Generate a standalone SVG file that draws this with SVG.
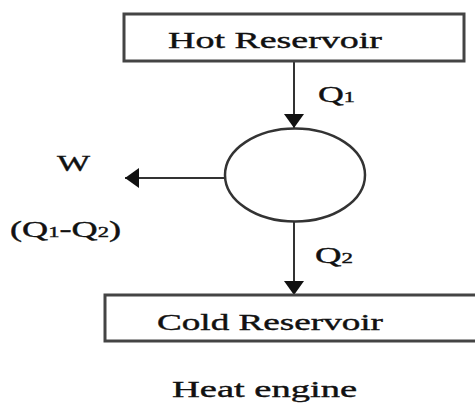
<svg xmlns="http://www.w3.org/2000/svg" width="475" height="403" viewBox="0 0 475 403">
<defs>
<marker id="ah" viewBox="0 0 14 20" refX="14" refY="10" markerWidth="14" markerHeight="20" markerUnits="userSpaceOnUse" orient="auto">
<path d="M0,0 L14,10 L0,20 Z" fill="#111"/>
</marker>
</defs>
<style>
.box{fill:#fff;stroke:#444;stroke-width:3}
.node{fill:#fff;stroke:#333;stroke-width:2.5}
.conn{stroke:#333;stroke-width:2;fill:none;marker-end:url(#ah)}
text{font-family:"Liberation Serif","Times New Roman",serif;fill:#111;stroke:#111;stroke-width:0.4}
.lbl{font-size:24px}
.sub{font-size:15px}
</style>
<rect width="475" height="403" fill="#fff"/>
<g id="connectors">
<line class="conn" x1="294" y1="61" x2="294" y2="128"/>
<line class="conn" x1="294" y1="221" x2="294" y2="295"/>
<line class="conn" x1="225" y1="178" x2="125" y2="178"/>
</g>
<g id="hot">
<rect class="box" x="124" y="14" width="340" height="47"/>
<text class="lbl" x="168" y="48" textLength="214" lengthAdjust="spacingAndGlyphs">Hot Reservoir</text>
</g>
<g id="engine">
<ellipse class="node" cx="295" cy="175" rx="70" ry="46.5"/>
</g>
<g id="cold">
<rect class="box" x="105" y="295" width="375" height="46"/>
<text class="lbl" x="157" y="330" textLength="226" lengthAdjust="spacingAndGlyphs">Cold Reservoir</text>
</g>
<g id="labels">
<text class="lbl" x="318" y="102" textLength="37" lengthAdjust="spacingAndGlyphs">Q<tspan class="sub">1</tspan></text>
<text class="lbl" x="315" y="263" textLength="38" lengthAdjust="spacingAndGlyphs">Q<tspan class="sub">2</tspan></text>
<text class="lbl" x="57" y="171" textLength="33" lengthAdjust="spacingAndGlyphs">W</text>
<text class="lbl" x="10" y="237" textLength="111" lengthAdjust="spacingAndGlyphs">(Q<tspan class="sub">1</tspan>-Q<tspan class="sub">2</tspan>)</text>
<text class="lbl" x="172" y="397" textLength="185" lengthAdjust="spacingAndGlyphs">Heat engine</text>
</g>
</svg>
